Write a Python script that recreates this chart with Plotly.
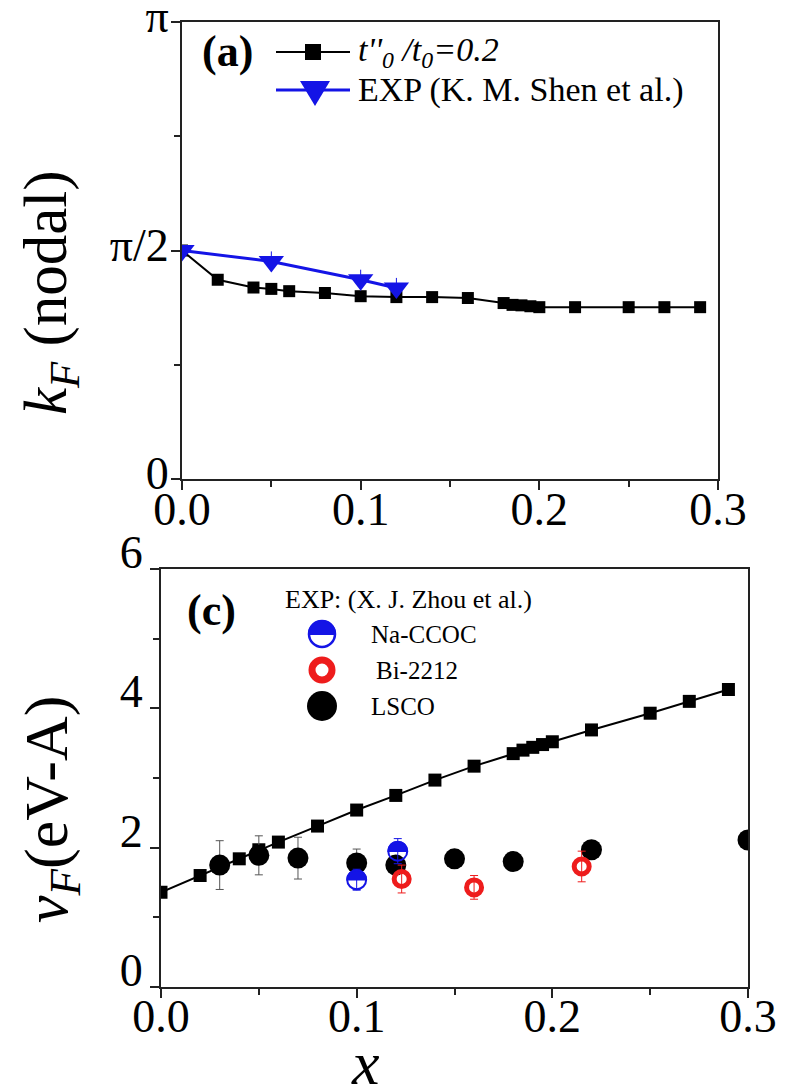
import numpy as np
import plotly.graph_objects as go

# ---------------- data ----------------
# panel (a): nodal Fermi momentum, in units of pi
x_model = [0.0, 0.02, 0.04, 0.05, 0.06, 0.08, 0.10, 0.12, 0.14, 0.16,
           0.18, 0.185, 0.19, 0.195, 0.20, 0.22, 0.25, 0.27, 0.29]
kf_model = [0.500, 0.436, 0.419, 0.416, 0.411, 0.407, 0.400, 0.398, 0.398, 0.396,
            0.385, 0.381, 0.380, 0.378, 0.376, 0.376, 0.376, 0.376, 0.376]
x_shen = [0.0, 0.05, 0.10, 0.12]
kf_shen = [0.500, 0.476, 0.436, 0.418]
kf_shen_err = [0.0, 0.022, 0.022, 0.022]

# panel (c): nodal Fermi velocity (eV-A)
vf_model = [1.36, 1.60, 1.84, 1.97, 2.08, 2.31, 2.54, 2.75, 2.97, 3.17,
            3.35, 3.40, 3.44, 3.48, 3.52, 3.69, 3.93, 4.10, 4.27]
x_lsco = [0.03, 0.05, 0.07, 0.10, 0.12, 0.15, 0.18, 0.22, 0.30]
vf_lsco = [1.75, 1.89, 1.85, 1.78, 1.75, 1.84, 1.80, 1.97, 2.11]
vf_lsco_err = [0.35, 0.28, 0.30, 0.20, 0.0, 0.0, 0.0, 0.0, 0.0]
x_na = [0.10, 0.121]
vf_na = [1.54, 1.95]
vf_na_err = [0.15, 0.18]
x_bi = [0.123, 0.16, 0.215]
vf_bi = [1.55, 1.43, 1.73]
vf_bi_err = [0.20, 0.17, 0.22]

x_ticks = [0.0, 0.1, 0.2, 0.3]
x_ticktext = ["0.0", "0.1", "0.2", "0.3"]
ka_ticks = [0.0, 0.5, 1.0]
ka_ticktext = ["0", "π/2", "π"]
vf_ticks = [0, 2, 4, 6]

# ---------------- style ----------------
W, H = 787, 1091
FONT = "Liberation Serif, Times New Roman, serif"
BLUE = "#1414e6"
RED = "#ee1c1c"
AX = "#222222"


def px(x):
    return x / W


def py(y):
    return 1 - y / H


fig = go.Figure()

# panel (a)
fig.add_trace(go.Scatter(x=x_model, y=kf_model, mode="lines+markers",
                         line=dict(color="black", width=2),
                         marker=dict(symbol="square", size=12, color="black"),
                         xaxis="x", yaxis="y"))
fig.add_trace(go.Scatter(x=x_shen, y=kf_shen, mode="lines+markers",
                         line=dict(color=BLUE, width=3),
                         marker=dict(symbol="triangle-down", size=22, color=BLUE),
                         error_y=dict(type="data", array=kf_shen_err, color=BLUE,
                                      thickness=1, width=0),
                         xaxis="x", yaxis="y"))

# panel (c)
fig.add_trace(go.Scatter(x=x_model, y=vf_model, mode="lines+markers",
                         line=dict(color="black", width=2),
                         marker=dict(symbol="square", size=13, color="black"),
                         xaxis="x2", yaxis="y2"))
fig.add_trace(go.Scatter(x=x_lsco, y=vf_lsco, mode="markers",
                         marker=dict(symbol="circle", size=21, color="black"),
                         error_y=dict(type="data", array=vf_lsco_err, color="#555555",
                                      thickness=1, width=4),
                         xaxis="x2", yaxis="y2"))
fig.add_trace(go.Scatter(x=x_na, y=vf_na, mode="markers",
                         marker=dict(symbol="circle-open", size=19, color=BLUE,
                                     line=dict(color=BLUE, width=2)),
                         error_y=dict(type="data", array=vf_na_err, color=BLUE,
                                      thickness=1, width=4),
                         xaxis="x2", yaxis="y2"))
fig.add_trace(go.Scatter(x=x_bi, y=vf_bi, mode="markers",
                         marker=dict(symbol="circle-open", size=15, color=RED,
                                     line=dict(color=RED, width=5)),
                         error_y=dict(type="data", array=vf_bi_err, color=RED,
                                      thickness=1, width=4),
                         xaxis="x2", yaxis="y2"))


def half_path(r):
    th = np.linspace(0, np.pi, 31)
    return "M " + " L ".join(f"{r*np.cos(t):.2f},{r*np.sin(t):.2f}" for t in th) + " Z"


shapes = []
# upper half fill of Na-CCOC symbols, anchored to the data points
for xv, yv in zip(x_na, vf_na):
    shapes.append(dict(type="path", xref="x2", yref="y2", xsizemode="pixel",
                       ysizemode="pixel", xanchor=xv, yanchor=yv,
                       path=half_path(9.5), fillcolor=BLUE,
                       line=dict(color=BLUE, width=1.5), layer="above"))

# ---------- hand-made legends ----------
# panel (a)
ya1, ya2 = py(44), py(82)
shapes.append(dict(type="line", xref="paper", yref="paper", x0=px(268), x1=px(342),
                   y0=ya1, y1=ya1, line=dict(color="black", width=2)))
shapes.append(dict(type="rect", xref="paper", yref="paper", xsizemode="pixel",
                   ysizemode="pixel", xanchor=px(305), yanchor=ya1,
                   x0=-8, x1=8, y0=-8, y1=8, fillcolor="black", line=dict(width=0)))
shapes.append(dict(type="line", xref="paper", yref="paper", x0=px(268), x1=px(342),
                   y0=ya2, y1=ya2, line=dict(color=BLUE, width=3)))
shapes.append(dict(type="path", xref="paper", yref="paper", xsizemode="pixel",
                   ysizemode="pixel", xanchor=px(307), yanchor=ya2,
                   path="M -15,9 L 15,9 L 0,-16 Z", fillcolor=BLUE, line=dict(width=0)))

# panel (c)
lx = px(314)
yc1, yc2, yc3 = py(626), py(662), py(698)
shapes.append(dict(type="circle", xref="paper", yref="paper", xsizemode="pixel",
                   ysizemode="pixel", xanchor=lx, yanchor=yc1, x0=-13, x1=13, y0=-13, y1=13,
                   fillcolor="white", line=dict(color=BLUE, width=2.5)))
shapes.append(dict(type="path", xref="paper", yref="paper", xsizemode="pixel",
                   ysizemode="pixel", xanchor=lx, yanchor=yc1, path=half_path(13),
                   fillcolor=BLUE, line=dict(color=BLUE, width=2)))
shapes.append(dict(type="circle", xref="paper", yref="paper", xsizemode="pixel",
                   ysizemode="pixel", xanchor=lx, yanchor=yc2, x0=-10, x1=10, y0=-10, y1=10,
                   fillcolor="white", line=dict(color=RED, width=7)))
shapes.append(dict(type="circle", xref="paper", yref="paper", xsizemode="pixel",
                   ysizemode="pixel", xanchor=lx, yanchor=yc3, x0=-15, x1=15, y0=-15, y1=15,
                   fillcolor="black", line=dict(width=0)))

ann = []


def text(t, x, y, size, xanchor="center", angle=0, color="black", height=None):
    a = dict(text=t, x=x, y=y, xref="paper", yref="paper", showarrow=False,
             xanchor=xanchor, yanchor="middle", textangle=angle,
             font=dict(family=FONT, size=size, color=color))
    if height is not None:
        a["height"] = height
    ann.append(a)


text("<b>(a)</b>", px(219), py(43), 44)
text("<i>t''<sub>0</sub> /t<sub>0</sub>=0.2</i>", px(348), ya1, 34, "left")
text("EXP (K. M. Shen et al.)", px(348), ya2, 34, "left")
text("<b>(c)</b>", px(203), py(603), 44)
text("EXP: (X. J. Zhou et al.)", px(275), py(591), 26, "left")
text("Na-CCOC", px(361), yc1, 25, "left")
text("Bi-2212", px(366), yc2, 25, "left")
text("LSCO", px(361), yc3, 25, "left")
text("<i>k<sub>F</sub></i> (nodal)", px(42), py(285), 61, angle=-90)
text("<i>v<sub>F</sub></i>(eV-A)", px(42), py(802), 62, angle=-90)
text("<i>x</i>", px(357), py(1055), 62, height=58)

axis_common = dict(showgrid=False, zeroline=False, showline=True, linecolor=AX,
                   linewidth=2, mirror=True, ticks="outside", ticklen=9, tickwidth=2,
                   tickcolor=AX, automargin=False, ticklabeloverflow="allow",
                   tickfont=dict(family=FONT, size=46, color="black"))

fig.update_layout(
    width=W, height=H, margin=dict(l=0, r=0, t=0, b=0, autoexpand=False),
    paper_bgcolor="white", plot_bgcolor="white", showlegend=False,
    xaxis=dict(domain=[px(174), px(710)], anchor="y", range=[0, 0.3],
               tickvals=x_ticks, ticktext=x_ticktext, ticklabelstandoff=-20,
               minor=dict(dtick=0.05, ticklen=6, ticks="outside", tickcolor=AX, tickwidth=2),
               **axis_common),
    yaxis=dict(domain=[py(471), py(14)], anchor="x", range=[0, 1],
               tickvals=ka_ticks, ticktext=ka_ticktext, ticklabelshift=-6,
               ticklabelstandoff=-7,
               minor=dict(tickvals=[0.25, 0.75], ticklen=6, ticks="outside", tickcolor=AX, tickwidth=2),
               **axis_common),
    xaxis2=dict(domain=[px(153), px(740)], anchor="y2", range=[0, 0.3],
                tickvals=x_ticks, ticktext=x_ticktext, ticklabelstandoff=-21,
                minor=dict(dtick=0.05, ticklen=6, ticks="outside", tickcolor=AX, tickwidth=2),
                **axis_common),
    yaxis2=dict(domain=[py(979), py(561)], anchor="x2", range=[0, 6],
                tickvals=vf_ticks, ticklabelshift=-17, ticklabelstandoff=-2,
                minor=dict(dtick=1, ticklen=6, ticks="outside", tickcolor=AX, tickwidth=2),
                **axis_common),
    shapes=shapes,
    annotations=ann,
)

fig.write_html("out.html")
